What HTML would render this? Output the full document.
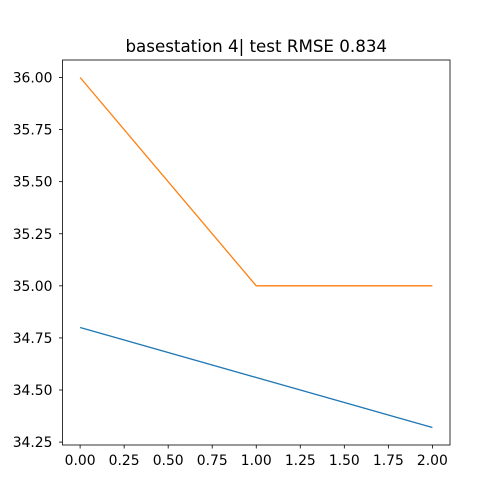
<!DOCTYPE html>
<html><head><meta charset="utf-8"><style>
body{margin:0;background:#fff;}
svg{display:block;font-family:"DejaVu Sans","Liberation Sans",sans-serif;}
</style></head><body>
<svg id="chart" width="500" height="500"></svg>
<script>
const xValues=[0,1,2];
const seriesBlue=[34.80,34.56,34.32];
const seriesOrange=[36.0,35.0,35.0];
const xTicks=[0,0.25,0.5,0.75,1,1.25,1.5,1.75,2];
const xTickLabels=["0.00","0.25","0.50","0.75","1.00","1.25","1.50","1.75","2.00"];
const yTicks=[34.25,34.5,34.75,35,35.25,35.5,35.75,36];
const yTickLabels=["34.25","34.50","34.75","35.00","35.25","35.50","35.75","36.00"];
const titleText="basestation 4| test RMSE 0.834";

const NS="http://www.w3.org/2000/svg";
const svg=document.getElementById('chart');
const L=62.5,R=450,T=60,B=445;
const all=seriesBlue.concat(seriesOrange);
let ymin=Math.min(...all),ymax=Math.max(...all);const yp=(ymax-ymin)*0.05;ymin-=yp;ymax+=yp;
let xmin=Math.min(...xValues),xmax=Math.max(...xValues);const xp=(xmax-xmin)*0.05;xmin-=xp;xmax+=xp;
const sx=v=>L+(v-xmin)/(xmax-xmin)*(R-L);
const sy=v=>B-(v-ymin)/(ymax-ymin)*(B-T);
function el(tag,attrs){const e=document.createElementNS(NS,tag);for(const k in attrs)e.setAttribute(k,attrs[k]);svg.appendChild(e);return e;}

xTicks.forEach((t,i)=>{
 const x=sx(t);
 const tk=el('line',{x1:x,x2:x,y1:B,y2:B+3.5,stroke:'#000','stroke-width':0.8});
 
 
 const tx=el('text',{x:x,y:B+20,'font-size':13.9,'text-anchor':'middle',fill:'#000'});
 tx.textContent=xTickLabels[i];
 
 
});
yTicks.forEach((t,i)=>{
 const y=sy(t);
 const tk=el('line',{x1:L-3.5,x2:L,y1:y,y2:y,stroke:'#000','stroke-width':0.8});
 
 
 const tx=el('text',{x:L-10,y:y+5,'font-size':13.9,'text-anchor':'end',fill:'#000'});
 tx.textContent=yTickLabels[i];
 
 
});
function line(vals,color,name){
 const p=el('polyline',{points:vals.map((v,i)=>sx(xValues[i])+','+sy(v)).join(' '),fill:'none',stroke:color,'stroke-width':1.3});
 
 
}
line(seriesBlue,'#1f77b4','series-blue-line');
line(seriesOrange,'#ff7f0e','series-orange-line');
const fr=el('rect',{x:L,y:T,width:R-L,height:B-T,fill:'none',stroke:'#000','stroke-width':0.8});


const ti=el('text',{x:(L+R)/2,y:T-8,'font-size':16.7,'text-anchor':'middle',fill:'#000'});
ti.textContent=titleText;


</script>
</body></html>
